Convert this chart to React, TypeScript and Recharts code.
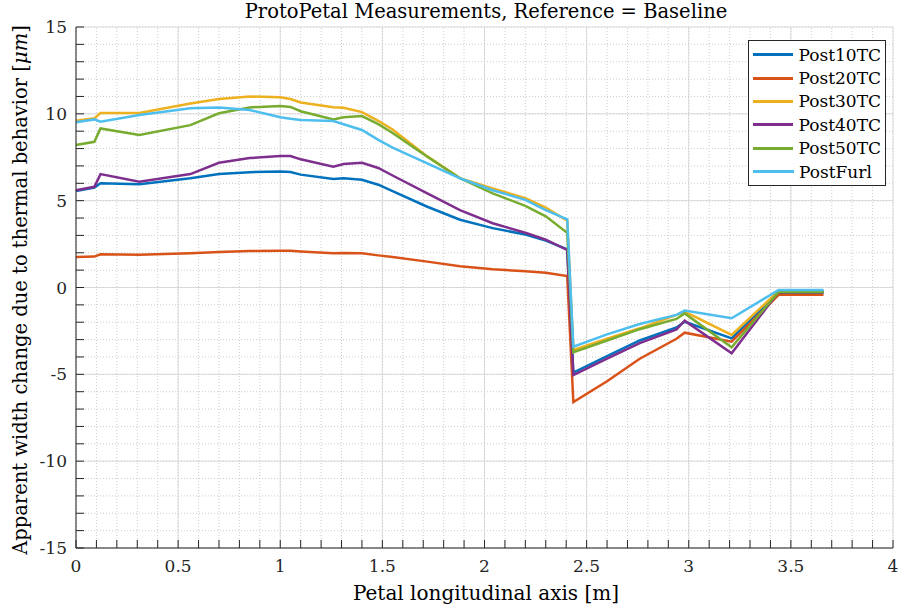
import { LineChart, Line, XAxis, YAxis, CartesianGrid, Legend, Customized, ReferenceLine, Text } from 'recharts';

// positions along the petal [m]
const xs = [0, 0.09, 0.12, 0.31, 0.56, 0.7, 0.85, 1.0, 1.05, 1.1, 1.26, 1.31, 1.4, 1.48, 1.55, 1.72, 1.88, 2.04, 2.2, 2.3, 2.405, 2.435, 2.6, 2.76, 2.94, 2.98, 3.21, 3.44, 3.66];

// apparent width change [um]
const post10TC = [5.55, 5.75, 6.0, 5.94, 6.29, 6.53, 6.64, 6.68, 6.65, 6.5, 6.25, 6.29, 6.2, 5.92, 5.55, 4.65, 3.9, 3.42, 3.05, 2.7, 2.2, -4.9, -3.95, -3.05, -2.3, -1.97, -2.93, -0.3, -0.3];
const post20TC = [1.75, 1.78, 1.91, 1.88, 1.97, 2.05, 2.1, 2.12, 2.11, 2.08, 1.97, 1.99, 1.97, 1.85, 1.75, 1.49, 1.22, 1.05, 0.93, 0.85, 0.66, -6.6, -5.4, -4.1, -2.95, -2.6, -3.12, -0.42, -0.42];
const post30TC = [9.6, 9.74, 10.05, 10.05, 10.6, 10.85, 11.0, 10.95, 10.85, 10.65, 10.38, 10.35, 10.1, 9.6, 9.1, 7.55, 6.3, 5.7, 5.15, 4.6, 3.85, -3.6, -2.95, -2.35, -1.58, -1.39, -2.73, -0.2, -0.2];
const post40TC = [5.6, 5.8, 6.53, 6.09, 6.53, 7.18, 7.45, 7.57, 7.57, 7.38, 6.96, 7.11, 7.18, 6.88, 6.45, 5.42, 4.46, 3.7, 3.15, 2.75, 2.16, -5.04, -4.1, -3.2, -2.41, -1.91, -3.79, -0.25, -0.25];
const post50TC = [8.2, 8.39, 9.16, 8.78, 9.35, 10.03, 10.37, 10.45, 10.4, 10.15, 9.68, 9.8, 9.87, 9.41, 8.9, 7.53, 6.29, 5.42, 4.7, 4.1, 3.15, -3.73, -3.05, -2.4, -1.81, -1.49, -3.44, -0.25, -0.25];
const postFurl = [9.51, 9.68, 9.55, 9.93, 10.32, 10.37, 10.22, 9.8, 9.72, 9.64, 9.59, 9.4, 9.07, 8.5, 8.05, 7.15, 6.29, 5.6, 5.05, 4.46, 3.93, -3.41, -2.7, -2.1, -1.58, -1.33, -1.77, -0.14, -0.14];

const seriesNames = ['Post10TC', 'Post20TC', 'Post30TC', 'Post40TC', 'Post50TC', 'PostFurl'];
const seriesValues = [post10TC, post20TC, post30TC, post40TC, post50TC, postFurl];
const seriesColors = ['#0072BD', '#D95319', '#EDB120', '#7E2F8E', '#77AC30', '#4DBEEE'];

const xMajorTicks = [0, 0.5, 1, 1.5, 2, 2.5, 3, 3.5, 4];
const xMinorTicks = [0, 0.1, 0.2, 0.3, 0.4, 0.5, 0.6, 0.7, 0.8, 0.9, 1, 1.1, 1.2, 1.3, 1.4, 1.5, 1.6, 1.7, 1.8, 1.9, 2, 2.1, 2.2, 2.3, 2.4, 2.5, 2.6, 2.7, 2.8, 2.9, 3, 3.1, 3.2, 3.3, 3.4, 3.5, 3.6, 3.7, 3.8, 3.9, 4];
const yMajorTicks = [-15, -10, -5, 0, 5, 10, 15];
const yMinorTicks = [-15, -14, -13, -12, -11, -10, -9, -8, -7, -6, -5, -4, -3, -2, -1, 0, 1, 2, 3, 4, 5, 6, 7, 8, 9, 10, 11, 12, 13, 14, 15];

const data = xs.map((x, i) => {
  const row: Record<string, number> = { x };
  seriesNames.forEach((name, k) => {
    row[name] = seriesValues[k][i];
  });
  return row;
});

const FONT = 'DejaVu Serif';
const INK = '#262626';
const TICK = 8;

const BottomTick = ({ x, y, payload }: any) => (
  <g>
    <line x1={x} y1={y} x2={x} y2={y - TICK} stroke={INK} />
    {xMajorTicks.includes(payload.value) && (
      <Text x={x} y={y + 24} textAnchor="middle" fontFamily={FONT} fontSize={17} fill={INK}>
        {String(payload.value)}
      </Text>
    )}
  </g>
);

const TopTick = ({ x, y }: any) => <line x1={x} y1={y} x2={x} y2={y + TICK} stroke={INK} />;

const LeftTick = ({ x, y, payload }: any) => (
  <g>
    <line x1={x} y1={y} x2={x + TICK} y2={y} stroke={INK} />
    {yMajorTicks.includes(payload.value) && (
      <Text x={x - 9} y={y + 6} textAnchor="end" fontFamily={FONT} fontSize={17} fill={INK}>
        {String(payload.value)}
      </Text>
    )}
  </g>
);

const RightTick = ({ x, y }: any) => <line x1={x} y1={y} x2={x - TICK} y2={y} stroke={INK} />;

const Labels = () => (
  <g fill="#000">
    <text x={486} y={18} textAnchor="middle" fontFamily={FONT} fontSize={19.5}>
      ProtoPetal Measurements, Reference = Baseline
    </text>
    <text x={486} y={600} textAnchor="middle" fontFamily={FONT} fontSize={20}>
      Petal longitudinal axis [m]
    </text>
    <text x={0} y={0} transform="translate(27, 290) rotate(-90)" textAnchor="middle" fontFamily={FONT} fontSize={19.5}>
      Apparent width change due to thermal behavior [<tspan fontStyle="italic">μm</tspan>]
    </text>
  </g>
);

const LegendBox = () => (
  <div
    style={{
      border: `1px solid ${INK}`,
      background: '#fff',
      padding: '2px 4px 2px 4px',
      fontFamily: FONT,
      fontSize: 17,
      color: '#000',
    }}
  >
    {seriesNames.map((name, k) => (
      <div key={name} style={{ display: 'flex', alignItems: 'center', height: 23.4 }}>
        <span style={{ display: 'inline-block', width: 41, height: 3, background: seriesColors[k], marginRight: 5 }} />
        <span>{name}</span>
      </div>
    ))}
  </div>
);

export default function App() {
  document.body.style.margin = '0';
  return (
    <div style={{ width: 904, height: 613, background: '#fff', position: 'relative' }}>
      <style>{`svg text { font-family: "DejaVu Serif", serif !important; }`}</style>
      <LineChart width={904} height={613} data={data} margin={{ top: 27, right: 11, bottom: 0, left: 0 }}>
        {xMinorTicks.map((v) => (
          <ReferenceLine key={`vx${v}`} x={v} stroke="#cdcdcd" strokeDasharray="1 2" />
        ))}
        {yMinorTicks.map((v) => (
          <ReferenceLine key={`hy${v}`} y={v} stroke="#cdcdcd" strokeDasharray="1 2" />
        ))}
        <CartesianGrid horizontalValues={yMajorTicks} verticalValues={xMajorTicks} stroke="#dedede" />
        <XAxis
          dataKey="x"
          type="number"
          domain={[0, 4]}
          ticks={xMinorTicks}
          interval={0}
          height={65}
          tickSize={0}
          tickMargin={0}
          tick={BottomTick}
          axisLine={{ stroke: INK }}
        />
        <XAxis
          xAxisId="top"
          orientation="top"
          dataKey="x"
          type="number"
          domain={[0, 4]}
          ticks={xMinorTicks}
          interval={0}
          height={0}
          tickSize={0}
          tickMargin={0}
          tick={TopTick}
          axisLine={{ stroke: INK }}
        />
        <YAxis
          type="number"
          domain={[-15, 15]}
          ticks={yMinorTicks}
          interval={0}
          width={76}
          tickSize={0}
          tickMargin={0}
          tick={LeftTick}
          axisLine={{ stroke: INK }}
        />
        <YAxis
          yAxisId="right"
          orientation="right"
          type="number"
          domain={[-15, 15]}
          ticks={yMinorTicks}
          interval={0}
          width={0}
          tickSize={0}
          tickMargin={0}
          tick={RightTick}
          axisLine={{ stroke: INK }}
        />
        {seriesNames.map((name, k) => (
          <Line
            key={name}
            type="linear"
            dataKey={name}
            stroke={seriesColors[k]}
            strokeWidth={2.5}
            dot={false}
            isAnimationActive={false}
          />
        ))}
        <Legend
          layout="vertical"
          align="center"
          verticalAlign="middle"
          content={() => <LegendBox />}
          wrapperStyle={{ position: 'absolute', left: 748, top: 40, width: 138, height: 'auto' }}
        />
        <Customized component={Labels} />
      </LineChart>
    </div>
  );
}
